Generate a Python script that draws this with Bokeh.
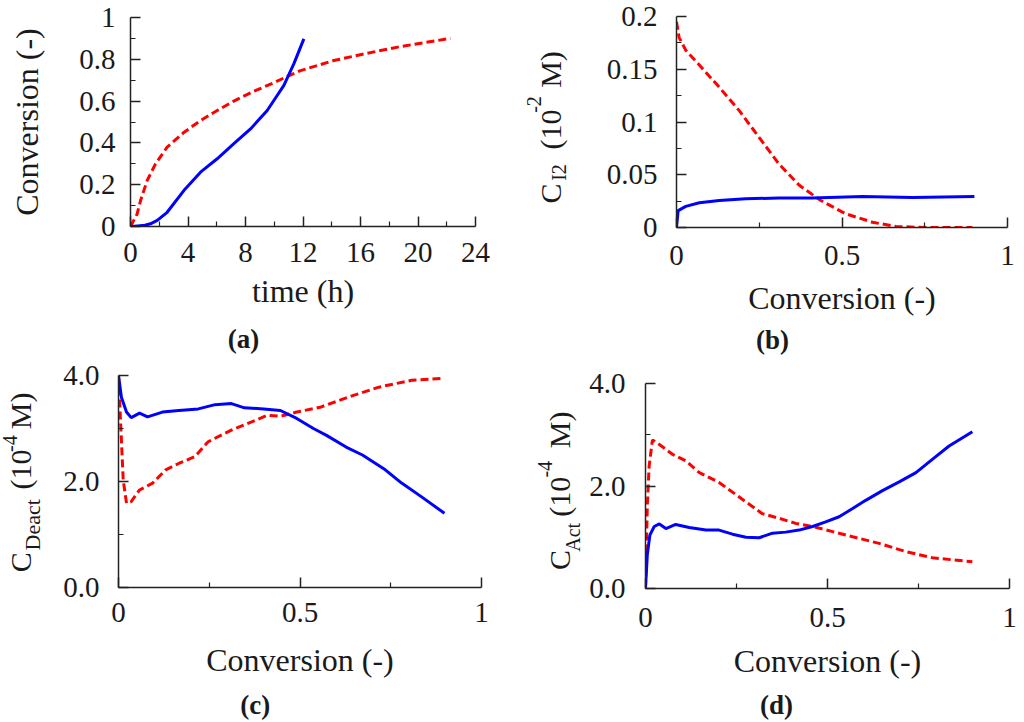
from bokeh.plotting import figure
from bokeh.models import Range1d, FixedTicker, LinearAxis
from bokeh.layouts import column, row
from bokeh.embed import file_html
from bokeh.resources import INLINE

# ---------------- data ----------------
# (a) conversion vs time
a_red_t = [0, 0.46, 0.70, 1.16, 1.74, 2.55, 3.71, 4.87, 6.03, 7.19, 8.58, 9.97, 10.9, 11.83, 14.14, 16.46, 18.78, 22.26]
a_red_x = [0, 0.06, 0.124, 0.22, 0.30, 0.38, 0.45, 0.507, 0.555, 0.60, 0.647, 0.688, 0.718, 0.746, 0.794, 0.829, 0.861, 0.90]
a_blue_t = [0, 0.5, 1.0, 1.39, 1.86, 2.55, 3.71, 4.87, 6.03, 7.19, 8.35, 9.51, 10.67, 11.36, 12.06]
a_blue_x = [0, 0.003, 0.006, 0.013, 0.029, 0.068, 0.172, 0.26, 0.324, 0.396, 0.467, 0.555, 0.675, 0.778, 0.898]

# (b) C_I2 vs conversion
b_red_X = [0, 0.008, 0.028, 0.069, 0.129, 0.189, 0.249, 0.31, 0.371, 0.436, 0.511, 0.592, 0.663, 0.75, 0.894]
b_red_C = [0.195, 0.180, 0.168, 0.154, 0.133, 0.111, 0.0856, 0.060, 0.040, 0.0256, 0.013, 0.005, 0.001, 0.0, 0.0]
b_blue_X = [0, 0.005, 0.028, 0.069, 0.129, 0.209, 0.31, 0.41, 0.562, 0.713, 0.9]
b_blue_C = [0, 0.016, 0.020, 0.0234, 0.0256, 0.0272, 0.028, 0.028, 0.0294, 0.0285, 0.0294]

# (c) C_Deact vs conversion
c_blue_X = [0, 0.008, 0.022, 0.035, 0.058, 0.08, 0.121, 0.166, 0.22, 0.266, 0.311, 0.347, 0.40, 0.446, 0.491,
            0.537, 0.573, 0.627, 0.672, 0.735, 0.78, 0.835, 0.898]
c_blue_C = [4.0, 3.59, 3.31, 3.205, 3.29, 3.22, 3.31, 3.34, 3.37, 3.45, 3.47, 3.39, 3.37, 3.34, 3.19,
            3.0, 2.87, 2.65, 2.50, 2.22, 1.97, 1.71, 1.40]
c_red_X = [0, 0.008, 0.013, 0.022, 0.035, 0.058, 0.094, 0.13, 0.166, 0.211, 0.247, 0.311, 0.365, 0.41, 0.446,
           0.491, 0.555, 0.645, 0.717, 0.808, 0.898]
c_red_C = [4.0, 2.78, 2.03, 1.59, 1.62, 1.84, 1.97, 2.22, 2.34, 2.47, 2.75, 2.97, 3.12, 3.25, 3.23,
           3.31, 3.40, 3.62, 3.78, 3.91, 3.95]

# (d) C_Act vs conversion
d_blue_X = [0, 0.005, 0.012, 0.024, 0.038, 0.056, 0.083, 0.12, 0.166, 0.202, 0.239, 0.276, 0.312, 0.349, 0.385,
            0.422, 0.459, 0.495, 0.532, 0.569, 0.605, 0.651, 0.697, 0.743, 0.788, 0.834, 0.898]
d_blue_C = [0, 0.66, 1.04, 1.21, 1.26, 1.17, 1.25, 1.19, 1.14, 1.14, 1.06, 1.0, 0.99, 1.08, 1.10,
            1.14, 1.21, 1.30, 1.40, 1.56, 1.72, 1.91, 2.08, 2.26, 2.52, 2.78, 3.06]
d_red_X = [0, 0.005, 0.010, 0.019, 0.038, 0.074, 0.111, 0.148, 0.202, 0.239, 0.276, 0.321, 0.367, 0.413, 0.459,
           0.514, 0.569, 0.642, 0.715, 0.788, 0.898]
d_red_C = [0, 1.62, 2.39, 2.90, 2.81, 2.62, 2.49, 2.26, 2.07, 1.88, 1.69, 1.46, 1.37, 1.27, 1.21,
           1.11, 1.01, 0.88, 0.72, 0.60, 0.52]

# ticks
a_xticks = [0, 4, 8, 12, 16, 20, 24]
a_xminor = [2, 6, 10, 14, 18, 22]
a_xlabels = ["0", "4", "8", "12", "16", "20", "24"]
a_yticks = [0, 0.2, 0.4, 0.6, 0.8, 1.0]
a_yminor = [0.1, 0.3, 0.5, 0.7, 0.9]
a_ylabels = ["0", "0.2", "0.4", "0.6", "0.8", "1"]
conv_ticks = [0, 0.5, 1.0]
conv_minor = [0.25, 0.75]
conv_labels = ["0", "0.5", "1"]
b_yticks = [0, 0.05, 0.1, 0.15, 0.2]
b_yminor = [0.025, 0.075, 0.125, 0.175]
b_ylabels = ["0", "0.05", "0.1", "0.15", "0.2"]
cd_yticks = [0, 2.0, 4.0]
cd_yminor = [1.0, 3.0]
cd_ylabels = ["0.0", "2.0", "4.0"]

# axis-title pieces (text with sub/superscripts)
b_title_main = ["C", "(10", "M)"]
b_title_sub = ["I2"]
b_title_sup = ["-2"]
c_title_main = ["C", "(10", "M)"]
c_title_sub = ["Deact"]
c_title_sup = ["-4"]
d_title_main = ["C", "(10", "M)"]
d_title_sub = ["Act"]
d_title_sup = ["-4"]
tags = ["(a)", "(b)", "(c)", "(d)"]

# ---------------- style ----------------
FONT = "Liberation Serif"
TXT = "#1a1a1a"
AX = "#222222"
BLUE = "#0000ff"
RED = "#ff0000"


def style_axis(ax, ticks, minor, labels, standoff):
    ax.ticker = FixedTicker(ticks=ticks, minor_ticks=minor)
    ax.major_label_overrides = {t: l for t, l in zip(ticks, labels)}
    ax.axis_line_width = 1.5
    ax.axis_line_color = AX
    ax.major_tick_in = 10
    ax.major_tick_out = 0
    ax.minor_tick_in = 5
    ax.minor_tick_out = 0
    ax.major_tick_line_color = AX
    ax.minor_tick_line_color = AX
    ax.major_tick_line_width = 1.5
    ax.minor_tick_line_width = 1.2
    ax.major_label_text_font = FONT
    ax.major_label_text_font_size = "29px"
    ax.major_label_text_color = TXT
    ax.major_label_standoff = standoff
    ax.axis_label_text_font = FONT
    ax.axis_label_text_font_size = "32px"
    ax.axis_label_text_font_style = "normal"
    ax.axis_label_text_color = TXT


class Panel:
    """figure whose frame occupies canvas box [fl, fl+fw] x [ft, ft+fh], figure placed at (ox, oy)."""

    def __init__(self, ox, oy, w, h, fl, ft, fw, fh, xr, yr):
        self.fl, self.ft, self.fw, self.fh = fl, ft, fw, fh
        self.xr, self.yr = xr, yr
        bl = fl - ox
        bt = ft - oy
        br = w - bl - fw
        bb = h - bt - fh
        p = figure(width=w, height=h, x_range=Range1d(*xr), y_range=Range1d(*yr),
                   output_backend="svg", toolbar_location=None,
                   min_border_left=bl, min_border_right=br, min_border_top=bt, min_border_bottom=bb)
        p.outline_line_color = None
        p.grid.visible = False
        p.background_fill_color = "white"
        p.border_fill_color = "white"
        self.p = p

    def fx(self, cx):
        x0, x1 = self.xr
        return round(x0 + (cx - self.fl) / self.fw * (x1 - x0), 5)

    def fy(self, cy):
        y0, y1 = self.yr
        return round(y0 + (self.ft + self.fh - cy) / self.fh * (y1 - y0), 5)

    def text_axis(self, side, pos, labels, size, standoff, style="normal", orient="horizontal"):
        ticks = [self.fy(c) if side in ("left", "right") else self.fx(c) for c in pos]
        ax = LinearAxis(ticker=FixedTicker(ticks=ticks, minor_ticks=[]),
                        major_label_overrides={t: l for t, l in zip(ticks, labels)},
                        axis_line_color=None, major_tick_line_color=None, minor_tick_line_color=None,
                        major_tick_in=0, major_tick_out=0, minor_tick_in=0, minor_tick_out=0,
                        major_label_standoff=standoff, major_label_orientation=orient,
                        major_label_text_font=FONT, major_label_text_font_size=f"{size}px",
                        major_label_text_font_style=style, major_label_text_color=TXT)
        self.p.add_layout(ax, side)

    def ytitle(self, main, main_pos, main_so, sub, sub_pos, sub_size, sub_so, sup, sup_pos, sup_so):
        # stacked outward from the frame: subscript band, main band, superscript band
        self.text_axis("left", sub_pos, sub, sub_size, sub_so, orient="parallel")
        self.text_axis("left", main_pos, main, 30, main_so, orient="parallel")
        self.text_axis("left", sup_pos, sup, 20, sup_so, orient="parallel")


# ---------------- panel (a) ----------------
A = Panel(0, 0, 512, 358, 130, 17, 345, 209, (0, 24), (0, 1))
pa = A.p
style_axis(pa.xaxis[0], a_xticks, a_xminor, a_xlabels, 16)
style_axis(pa.yaxis[0], a_yticks, a_yminor, a_ylabels, 15)
pa.xaxis[0].axis_label = "time (h)"
pa.xaxis[0].axis_label_standoff = 8
pa.yaxis[0].axis_label = "Conversion (-)"
pa.yaxis[0].axis_label_standoff = 31
pa.line(a_red_t, a_red_x, line_color=RED, line_width=3, line_dash="8 4")
pa.line(a_blue_t, a_blue_x, line_color=BLUE, line_width=3)
A.text_axis("below", [243], [tags[0]], 27, 12, style="bold")

# ---------------- panel (b) ----------------
B = Panel(512, 0, 512, 358, 676, 16, 331, 211, (0, 1), (0, 0.2))
pb = B.p
style_axis(pb.xaxis[0], conv_ticks, conv_minor, conv_labels, 18)
style_axis(pb.yaxis[0], b_yticks, b_yminor, b_ylabels, 19)
pb.xaxis[0].axis_label = "Conversion (-)"
pb.xaxis[0].axis_label_standoff = 12
pb.line(b_red_X, b_red_C, line_color=RED, line_width=3, line_dash="8 4")
pb.line(b_blue_X, b_blue_C, line_color=BLUE, line_width=3)
B.ytitle(b_title_main, [193, 129, 69], -22, b_title_sub, [172], 20, 33, b_title_sup, [104], -10)
B.text_axis("below", [772], [tags[1]], 27, 6, style="bold")

# ---------------- panel (c) ----------------
C = Panel(0, 358, 512, 364, 112, 375, 369, 213, (0, 1), (0, 4))
pc = C.p
style_axis(pc.xaxis[0], conv_ticks, conv_minor, conv_labels, 15)
style_axis(pc.yaxis[0], cd_yticks, cd_yminor, cd_ylabels, 19)
pc.xaxis[0].axis_label = "Conversion (-)"
pc.xaxis[0].axis_label_standoff = 17
pc.line(c_red_X, c_red_C, line_color=RED, line_width=3, line_dash="8 4")
pc.line(c_blue_X, c_blue_C, line_color=BLUE, line_width=3)
C.ytitle(c_title_main, [562.5, 469.5, 410.5], -20, c_title_sub, [525], 22, 15, c_title_sup, [443.5], -16)
C.text_axis("below", [251], [tags[2]], 27, 9, style="bold")

# ---------------- panel (d) ----------------
D = Panel(512, 358, 512, 364, 645, 383, 364, 208, (0, 1), (0, 4))
pd_ = D.p
style_axis(pd_.xaxis[0], conv_ticks, conv_minor, conv_labels, 19)
style_axis(pd_.yaxis[0], cd_yticks, cd_yminor, cd_ylabels, 20)
pd_.xaxis[0].axis_label = "Conversion (-)"
pd_.xaxis[0].axis_label_standoff = 13
pd_.line(d_red_X, d_red_C, line_color=RED, line_width=3, line_dash="8 4")
pd_.line(d_blue_X, d_blue_C, line_color=BLUE, line_width=3)
D.ytitle(d_title_main, [562, 498, 430], -18, d_title_sub, [539], 20, 3, d_title_sup, [470], -12)
D.text_axis("below", [776], [tags[3]], 27, 8, style="bold")

layout = column(row(column(pa), column(pb)), row(column(pc), column(pd_)))
open("out.html", "w").write(file_html(layout, INLINE))
